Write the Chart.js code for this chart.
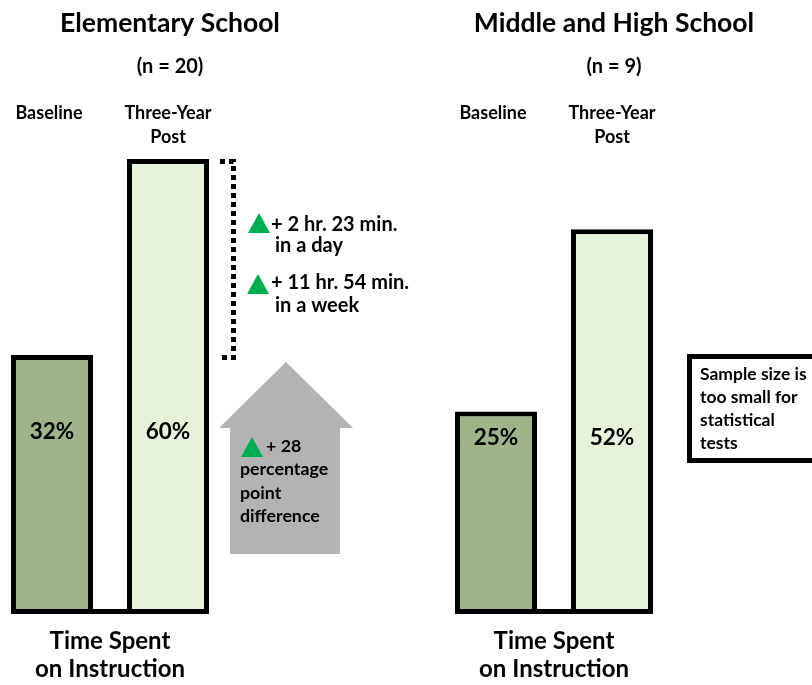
<!DOCTYPE html>
<html>
<head>
<meta charset="utf-8">
<script src="https://cdn.jsdelivr.net/npm/chart.js@4/dist/chart.umd.min.js"></script>
<style>
  body { margin: 0; width: 812px; height: 685px; overflow: hidden; background: #fff; position: relative; }
  .panel { position: absolute; top: 0; height: 685px; }
</style>
</head>
<body>
<div class="panel" id="leftBox" style="left:-6px;width:430px"><canvas id="elem"></canvas></div>
<div class="panel" id="rightBox" style="left:438px;width:374px"><canvas id="mhs"></canvas></div>
<script>
var categories = ["Baseline", ["Three-Year", "Post"]];
var elemValues = [32, 60];
var mhsValues = [25, 52];
var axisTitle = ["Time Spent", "on Instruction"];
var barColors = ["#9fb589", "#e6f2da"];
var FONT = "Lato, 'Open Sans', sans-serif";

function font(size) {
  return "bold " + size + "px " + FONT;
}

function text(ctx, str, x, y, size, align) {
  ctx.font = font(size);
  ctx.textAlign = align || "left";
  ctx.textBaseline = "alphabetic";
  ctx.fillStyle = "#000";
  ctx.fillText(str, x, y);
}

function triangle(ctx, x, y, w, h) {
  ctx.beginPath();
  ctx.moveTo(x + w / 2, y);
  ctx.lineTo(x + w, y + h);
  ctx.lineTo(x, y + h);
  ctx.closePath();
  ctx.fillStyle = "#00b050";
  ctx.fill();
}

// titles, category labels, value labels and the base line joining the bars
function panelPlugin(title, subtitle, offsetX, extra) {
  return {
    id: "panel",
    afterDraw: function (chart) {
      var ctx = chart.ctx;
      var bars = chart.getDatasetMeta(0).data;
      var y = chart.scales.y;
      var values = chart.data.datasets[0].data;
      ctx.save();
      // page coordinates
      ctx.translate(-offsetX, 0);
      var post = bars[1].getProps(["x", "y", "base", "width"], true);
      var base = bars[0].getProps(["x", "y", "base", "width"], true);
      var px = post.x + offsetX, bx = base.x + offsetX;

      text(ctx, title, px + 2, 32, 26.5, "center");
      text(ctx, subtitle, px + 2, 73, 20, "center");

      // category labels
      bars.forEach(function (bar, i) {
        var lab = categories[i];
        var lines = Array.isArray(lab) ? lab : [lab];
        lines.forEach(function (l, j) {
          text(ctx, l, bar.x + offsetX - (i === 0 ? 3 : 0), 119 + j * 24, 18, "center");
        });
        text(ctx, values[i] + "%", bar.x + offsetX, y.getPixelForValue(20), 22.5, "center");
      });

      // joining line at the bottom
      ctx.beginPath();
      ctx.lineWidth = 5;
      ctx.strokeStyle = "#000";
      ctx.moveTo(bx - base.width / 2, base.base - 2.5);
      ctx.lineTo(px + post.width / 2, base.base - 2.5);
      ctx.stroke();

      extra(ctx, { base: base, post: post, bx: bx, px: px });
      ctx.restore();
    }
  };
}

function elemNotes(ctx, b) {
  var pr = b.px + b.post.width / 2;
  var topY = b.post.y + 2.5, botY = b.base.y + 2.5;
  // dotted bracket
  ctx.beginPath();
  ctx.setLineDash([5, 4]);
  ctx.lineWidth = 5;
  ctx.strokeStyle = "#000";
  ctx.moveTo(pr + 11, topY);
  ctx.lineTo(pr + 24.5, topY);
  ctx.lineTo(pr + 24.5, botY);
  ctx.lineTo(pr + 11, botY);
  ctx.stroke();
  ctx.setLineDash([]);

  triangle(ctx, pr + 39, 213, 22, 20);
  text(ctx, "+ 2 hr. 23 min.", pr + 62, 231, 20);
  text(ctx, "in a day", pr + 66, 252, 20);
  triangle(ctx, pr + 38, 274, 22, 20);
  text(ctx, "+ 11 hr. 54 min.", pr + 62, 289, 20);
  text(ctx, "in a week", pr + 66, 312, 20);

  // gray arrow
  ctx.beginPath();
  ctx.moveTo(pr + 77, 362);
  ctx.lineTo(pr + 144, 428);
  ctx.lineTo(pr + 131, 428);
  ctx.lineTo(pr + 131, 554);
  ctx.lineTo(pr + 21, 554);
  ctx.lineTo(pr + 21, 428);
  ctx.lineTo(pr + 10, 428);
  ctx.closePath();
  ctx.fillStyle = "#b3b3b3";
  ctx.fill();

  triangle(ctx, pr + 32, 437, 22, 20);
  text(ctx, "+ 28", pr + 57, 452, 17.8);
  text(ctx, "percentage", pr + 31, 475, 17.8);
  text(ctx, "point", pr + 31, 499, 17.8);
  text(ctx, "difference", pr + 31, 522, 17.8);
}

function mhsNotes(ctx, b) {
  ctx.lineWidth = 5;
  ctx.strokeStyle = "#000";
  ctx.strokeRect(689.5, 356.5, 130, 104);
  ["Sample size is", "too small for", "statistical", "tests"].forEach(function (l, i) {
    text(ctx, l, 700, 380 + i * 23, 17.5);
  });
}

function makeChart(id, values, padTop, padRight, offsetX, title, subtitle, extra) {
  return new Chart(document.getElementById(id), {
    type: "bar",
    data: {
      labels: categories,
      datasets: [
        {
          data: values,
          base: -5,
          backgroundColor: barColors,
          borderColor: "#000",
          borderWidth: 5,
          borderSkipped: false,
          barPercentage: 0.707,
          categoryPercentage: 1
        }
      ]
    },
    options: {
      responsive: true,
      maintainAspectRatio: false,
      animation: false,
      layout: { padding: { top: padTop, right: padRight, left: 0, bottom: 0 } },
      plugins: { legend: { display: false }, tooltip: { enabled: false } },
      scales: {
        x: {
          offset: true,
          grid: { display: false, drawTicks: false },
          border: { display: false },
          ticks: { display: false },
          title: {
            display: true,
            text: axisTitle,
            color: "#000",
            font: { family: FONT, size: 24, weight: "bold", lineHeight: 1.167 },
            padding: { top: 13.7, bottom: 1.3 }
          }
        },
        y: { display: false, min: -5, max: 65 }
      }
    },
    plugins: [panelPlugin(title, subtitle, offsetX, extra)]
  });
}

makeChart("elem", elemValues, 124, 198, -6, "Elementary School", "(n = 20)", elemNotes);
makeChart("mhs", mhsValues, 141.5, 142, 438, "Middle and High School", "(n = 9)", mhsNotes);
</script>
</body>
</html>
